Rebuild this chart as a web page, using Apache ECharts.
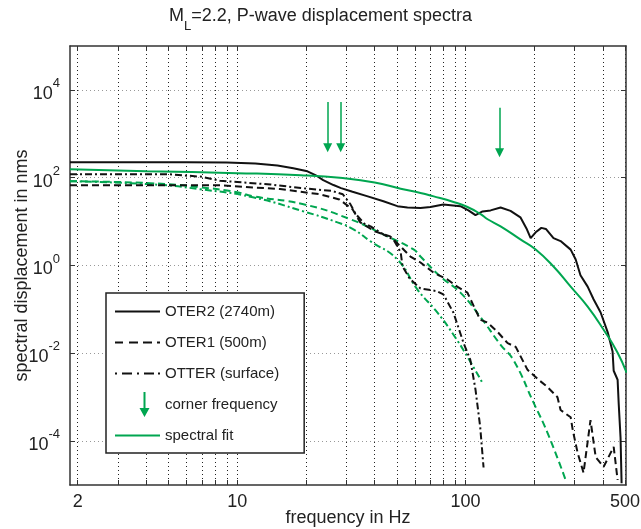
<!DOCTYPE html>
<html><head><meta charset="utf-8">
<script src="https://cdn.jsdelivr.net/npm/echarts@6/dist/echarts.min.js"></script>
<style>html,body{margin:0;padding:0;background:#fff}#c{width:641px;height:529px}</style>
</head><body><div id="c"></div>
<script>
// ---- data (frequency Hz, spectral displacement nms) ----
const oter2 = [[1.85,226],[4,226],[6,225],[9,222],[12,210],[15,190],[17.6,165],[20.3,140],[22,115],[23.8,88],[26.4,68],[28.5,58],[32,48],[37,38],[43.7,29],[50.3,22.5],[55.7,21],[63.5,20.5],[70.2,21.5],[80,24.5],[95,22.5],[103,18],[110.6,14],[118.8,17],[128.8,18],[142.5,21],[157.5,17.5],[174,12.5],[185,7],[193,4.2],[203,5.7],[215,7.2],[225,6.8],[243,4.2],[261,3.6],[289,2.3],[304,1.37],[319,0.6],[343,0.33],[364,0.17],[391,0.085],[420,0.03],[441,0.011],[446,0.004],[464,0.0025],[469,7.4e-4],[478,1.2e-4],[483,1.1e-5]];
const oter1 = [[1.85,67],[4,67],[8.4,67],[15.4,55],[23,42],[28,32],[32,19],[34.6,9.6],[40,6],[46.8,4.6],[52,2.7],[57.4,1.6],[63.5,1.17],[72.4,0.69],[83.4,0.48],[92,0.33],[102,0.24],[116,0.058],[125,0.05],[138,0.031],[153,0.017],[166,0.014],[187,0.0042],[209,0.0025],[229,0.0017],[253,0.001],[261,5.1e-4],[289,3.5e-4],[295,1.8e-4],[310,5.4e-5],[329,1.9e-5],[353,3.0e-4],[372,4.3e-5],[403,2.6e-5],[446,7.4e-5],[464,1.3e-5]];
const otter = [[1.85,120],[5,120],[7,105],[8.4,85],[10,80],[14,70],[19,58],[26,50],[29,42],[31.3,25],[33,15],[36,9],[38.4,7.8],[44,5],[48.4,3.9],[52,2],[53,0.95],[57,0.5],[63.5,0.3],[75,0.26],[80,0.22],[88.6,0.084],[98,0.0174],[105,0.0071],[110.6,0.0015],[116,2.1e-4],[120,2.5e-5]];
const fitOter2 = [[1.85,156],[4,141],[10,127],[19,114],[29,98],[40,78],[52,56],[63.5,45],[72,38],[88.6,28],[102,21.5],[116,15],[125,11.3],[142.5,7.8],[174,3.93],[203,2.32],[243,0.95],[289,0.331],[343,0.116],[403,0.0344],[464,0.0103],[508,0.0036]];
const fitOter1 = [[1.85,83],[4.15,75],[6.88,60.6],[10,46.6],[11.7,37.8],[19.5,24.8],[31.3,11.3],[45.5,4.6],[59.2,2.32],[63.5,1.6],[77.7,0.56],[95,0.241],[116,0.0683],[142.5,0.0156],[162,0.0071],[199,7.4e-4],[229,1.52e-4],[275,1.28e-5]];
const fitOtter = [[1.85,83],[4.15,71],[6.88,54.6],[11.7,35.8],[19.5,17.1],[27.5,9.6],[32.3,6.65],[38.4,3.54],[50.3,1.37],[61.6,0.283],[75.4,0.084],[88.6,0.0265],[102,0.0083],[118.8,0.0021]];
const cornerFreq = [24.9, 28.4, 141];
const arrowTop = [5300, 5300, 3900];
const arrowTip = [480, 480, 370];
const xTicks = [2,3,4,5,6,7,8,9,10,20,30,40,50,60,70,80,90,100,200,300,400,500];
const xLabels = [2,10,100,500];
const yTicks = [1e-4,1e-2,1,1e2,1e4];

const GREEN = '#00a650';
const BLACK = '#111';
const FONT = 'Liberation Sans, Arial, Helvetica, sans-serif';

const ICON_SOLID = 'path://M0,0 L45,0 L45,2 L0,2 Z';
const ICON_DASH = 'path://M0,0 h8 v2 h-8 Z M14,0 h9 v2 h-9 Z M28,0 h9 v2 h-9 Z M42,0 h3 v2 h-3 Z';
const ICON_DASHDOT = 'path://M0,0 h2 v2 h-2 Z M7,0 h10 v2 h-10 Z M22,0 h2 v2 h-2 Z M29,0 h10 v2 h-10 Z M43,0 h2 v2 h-2 Z';
const ICON_ARROW = 'path://M-19,12 L-19,12.01 Z M-1,0 L1,0 L1,16 L5,16 L0,25 L-5,16 L-1,16 Z';

const chart = echarts.init(document.getElementById('c'), null, {renderer:'canvas'});
const axisLine = {show:true, lineStyle:{color:'#333', width:1.5}};
const baseX = {
  type:'log', logBase:10, min:1.85, max:505,
  axisLine, axisTick:{show:true, inside:true, length:5, customValues:xTicks, lineStyle:{color:'#333'}},
};
const baseY = {
  type:'log', logBase:10, min:1e-5, max:1e5,
  axisLine, axisTick:{show:true, inside:true, length:5, customValues:yTicks, lineStyle:{color:'#333'}},
};

const arrowLines = cornerFreq.map((f,i)=>[{coord:[f, arrowTop[i]]},{coord:[f, arrowTip[i]]}]);

chart.setOption({
  animation:false,
  title:{text:'{m|M}{s|L}{m|=2.2, P-wave displacement spectra}', left:'center', top:2,
    textStyle:{fontWeight:'normal', rich:{m:{fontSize:18, fontWeight:'normal', fontFamily:FONT, color:'#222', lineHeight:24, verticalAlign:'top'}, s:{fontSize:13, fontWeight:'normal', fontFamily:FONT, color:'#222', lineHeight:26, verticalAlign:'bottom'}}}},
  grid:{left:70, right:15, top:46, bottom:44, containLabel:false, outerBoundsMode:'none'},
  legend:{
    orient:'vertical', left:106, top:293, symbolKeepAspect:true,
    backgroundColor:'#fff', borderColor:'#222', borderWidth:1.5,
    padding:[6,25,5,9], itemGap:6, itemWidth:45, itemHeight:25,
    textStyle:{fontSize:15, fontFamily:FONT, color:'#222', lineHeight:25},
    data:[{name:'OTER2 (2740m)', icon:ICON_SOLID, itemStyle:{color:BLACK}},
      {name:'OTER1 (500m)', icon:ICON_DASH, itemStyle:{color:BLACK}},
      {name:'OTTER (surface)', icon:ICON_DASHDOT, itemStyle:{color:BLACK}},
      {name:'corner frequency', icon:ICON_ARROW, itemStyle:{color:GREEN}},
      {name:'spectral fit', icon:ICON_SOLID, itemStyle:{color:GREEN}}]
  },
  xAxis:[
    Object.assign({}, baseX, {position:'bottom',
      name:'frequency in Hz', nameLocation:'middle', nameGap:24, nameMoveOverlap:false,
      nameTextStyle:{fontSize:18, fontFamily:FONT, color:'#222'},
      axisLabel:{show:true, customValues:xLabels, fontSize:18, fontFamily:FONT, color:'#222', margin:8, formatter:v=>String(Math.round(v))},
      splitLine:{show:true, lineStyle:{color:'#222', type:[1,3], width:1}}}),
    Object.assign({}, baseX, {position:'top', axisLabel:{show:false}, splitLine:{show:false}})
  ],
  yAxis:[
    Object.assign({}, baseY, {position:'left',
      name:'spectral displacement in nms', nameLocation:'middle', nameGap:39, nameMoveOverlap:false,
      nameTextStyle:{fontSize:18, fontFamily:FONT, color:'#222'},
      axisLabel:{show:true, customValues:yTicks, margin:10, fontFamily:FONT, color:'#222',
        formatter:v=>'{b|10}{s|'+Math.round(Math.log10(v))+'}',
        rich:{b:{fontSize:18, fontFamily:FONT, color:'#222', lineHeight:26, verticalAlign:'bottom'}, s:{fontSize:13, fontFamily:FONT, color:'#222', lineHeight:26, verticalAlign:'top'}}},
      splitLine:{show:true, lineStyle:{color:'#999', type:[1,3], width:1}}}),
    Object.assign({}, baseY, {position:'right', axisLabel:{show:false}, splitLine:{show:false}})
  ],
  series:[
    {name:'fit OTER1', type:'line', data:fitOter1, symbol:'none', smooth:true, lineStyle:{color:GREEN, width:2, type:[7,4]}, itemStyle:{color:GREEN}, z:2},
    {name:'fit OTTER', type:'line', data:fitOtter, symbol:'none', smooth:true, lineStyle:{color:GREEN, width:2, type:[7,3,2,3]}, itemStyle:{color:GREEN}, z:2},
    {name:'OTER2 (2740m)', type:'line', data:oter2, symbol:'none', lineStyle:{color:BLACK, width:2}, itemStyle:{color:BLACK}, z:3},
    {name:'OTER1 (500m)', type:'line', data:oter1, symbol:'none', lineStyle:{color:BLACK, width:2, type:[7,4]}, itemStyle:{color:BLACK}, z:3},
    {name:'OTTER (surface)', type:'line', data:otter, symbol:'none', lineStyle:{color:BLACK, width:2, type:[7,3,2,3]}, itemStyle:{color:BLACK}, z:3},
    {name:'corner frequency', type:'line', data:[], symbol:'none', itemStyle:{color:GREEN}, lineStyle:{color:GREEN},
      markLine:{silent:true, symbol:['none','triangle'], symbolSize:[9,9], label:{show:false},
        lineStyle:{color:GREEN, width:1.5, type:'solid'}, data:arrowLines}},
    {name:'spectral fit', type:'line', data:fitOter2, symbol:'none', smooth:true, lineStyle:{color:GREEN, width:2}, itemStyle:{color:GREEN}, z:4}
  ]
});
</script>
</body></html>
